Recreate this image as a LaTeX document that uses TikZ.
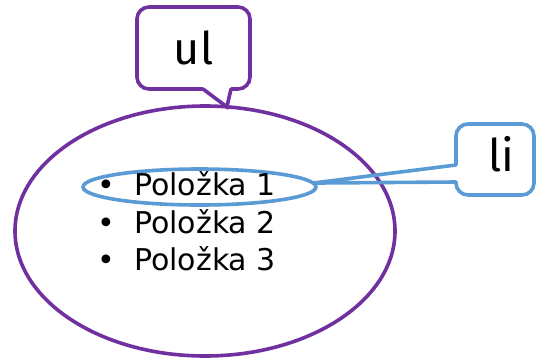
\documentclass[tikz,border=0pt]{standalone}
\usepackage{fontspec}
\setmainfont{DejaVu Sans}
\newfontfamily\tagfont{Fira Sans}
\usetikzlibrary{shapes.geometric, calc}
\definecolor{ulcolor}{RGB}{112, 48, 160}
\definecolor{licolor}{RGB}{91, 155, 213}

\begin{document}
\begin{tikzpicture}[
    x=1pt, y=-1pt,
    bubble/.style={draw, line width=3.6pt, fill=white, rounded corners=12pt, inner sep=0pt, outer sep=0pt, text=black, font=\tagfont\fontsize{45}{54}\selectfont},
    oval/.style={ellipse, draw, line width=3.6pt, inner sep=0pt, outer sep=0pt},
    item/.style={anchor=base west, inner sep=0pt, font=\fontsize{30}{36}\selectfont},
    tail/.style={line width=3.6pt, line cap=round, line join=miter}
]
    \useasboundingbox (0,0) rectangle (536,360);

    % Ovals
    \node[oval, draw=ulcolor, minimum width=380pt, minimum height=250pt] (ulset) at (205,231) {};
    \node[oval, draw=licolor, minimum width=233pt, minimum height=36pt] (liitem) at (199.5,187) {};

    % List items
    \node[item] (item1) at (97,195) {\makebox[37pt][l]{•}Položka 1};
    \node[item] (item2) at (97,233) {\makebox[37pt][l]{•}Položka 2};
    \node[item] (item3) at (97,270) {\makebox[37pt][l]{•}Položka 3};

    % ul bubble
    \node[bubble, draw=ulcolor, minimum width=113pt, minimum height=82pt] (ulbox) at (193.5,48) {ul};
    \fill[white] ($(ulbox.south west)+(66,-2.8)$) rectangle ($(ulbox.south west)+(94,2.8)$);
    \draw[tail, ulcolor] ($(ulbox.south west)+(66,0)$) -- (ulset.80) -- ($(ulbox.south west)+(94,0)$);

    % li bubble
    \node[bubble, draw=licolor, minimum width=78pt, minimum height=71pt, text depth=11pt] (libox) at (495,159.5) {\hspace*{12pt}li};
    \fill[white] ($(libox.north west)+(-2.8,41)$) rectangle ($(libox.north west)+(2.8,58)$);
    \draw[tail, licolor] ($(libox.north west)+(0,41)$) -- (liitem.2) -- ($(libox.north west)+(0,58)$);
\end{tikzpicture}
\end{document}
